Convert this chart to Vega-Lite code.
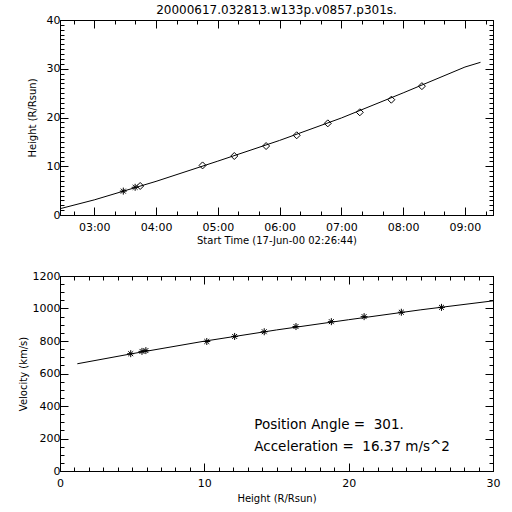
{
  "$schema": "https://vega.github.io/schema/vega-lite/v6.json",
  "background": "white",
  "padding": {"left": 17, "top": 3, "right": 5, "bottom": 5},
  "config": {
    "font": "DejaVu Sans",
    "view": {"stroke": "black", "strokeWidth": 1},
    "axis": {
      "domainColor": "black", "tickColor": "black", "labelColor": "black", "titleColor": "black",
      "labelFont": "DejaVu Sans", "titleFont": "DejaVu Sans", "labelFontSize": 11, "titleFontSize": 10,
      "titleFontWeight": "normal", "grid": false, "labelOverlap": false, "labelFlush": false,
      "domainWidth": 1, "tickWidth": 1, "labelPadding": 8, "titlePadding": 4
    }
  },
  "datasets": {
    "fit": [
      {"time": "2000-06-17T02:26:44", "height": 1.29},
      {"time": "2000-06-17T03:00:00", "height": 3.1},
      {"time": "2000-06-17T04:00:00", "height": 6.9},
      {"time": "2000-06-17T05:00:00", "height": 11.05},
      {"time": "2000-06-17T06:00:00", "height": 15.3},
      {"time": "2000-06-17T07:00:00", "height": 19.9},
      {"time": "2000-06-17T08:00:00", "height": 25.05},
      {"time": "2000-06-17T09:00:00", "height": 30.35},
      {"time": "2000-06-17T09:15:06", "height": 31.32}
    ],
    "obs": [
      {"time": "2000-06-17T03:28:13", "inst": "C2", "height": 4.9, "vel": 722},
      {"time": "2000-06-17T03:39:42", "inst": "C2", "height": 5.68, "vel": 736},
      {"time": "2000-06-17T03:44:36", "inst": "C3", "height": 5.95, "vel": 741},
      {"time": "2000-06-17T04:45:12", "inst": "C3", "height": 10.17, "vel": 797},
      {"time": "2000-06-17T05:16:00", "inst": "C3", "height": 12.1, "vel": 828},
      {"time": "2000-06-17T05:46:54", "inst": "C3", "height": 14.15, "vel": 857},
      {"time": "2000-06-17T06:16:36", "inst": "C3", "height": 16.35, "vel": 889},
      {"time": "2000-06-17T06:46:48", "inst": "C3", "height": 18.8, "vel": 919},
      {"time": "2000-06-17T07:17:54", "inst": "C3", "height": 21.07, "vel": 950},
      {"time": "2000-06-17T07:48:30", "inst": "C3", "height": 23.65, "vel": 977},
      {"time": "2000-06-17T08:18:12", "inst": "C3", "height": 26.43, "vel": 1007}
    ],
    "vfit": [
      {"h": 1.2, "v": 660},
      {"h": 5, "v": 722},
      {"h": 10, "v": 799},
      {"h": 15, "v": 868},
      {"h": 20, "v": 931},
      {"h": 25, "v": 992},
      {"h": 30, "v": 1047}
    ],
    "ann": [
      {"line": "Position Angle =\u00a0 301.", "h": 13.46, "v": 258},
      {"line": "Acceleration =\u00a0 16.37 m/s^2", "h": 13.46, "v": 123}
    ]
  },
  "vconcat": [
    {
      "width": 433,
      "height": 195,
      "title": {"text": "20000617.032813.w133p.v0857.p301s.", "fontSize": 12, "fontWeight": "normal", "frame": "group", "anchor": "middle", "offset": -3, "color": "black"},
      "layer": [
        {
          "data": {"name": "fit"},
          "mark": {"type": "line", "color": "black", "strokeWidth": 1},
          "encoding": {
            "x": {"field": "time", "type": "temporal",
              "scale": {"domain": [{"year": 2000, "month": 6, "date": 17, "hours": 2, "minutes": 26, "seconds": 44}, {"year": 2000, "month": 6, "date": 17, "hours": 9, "minutes": 27, "seconds": 15}], "nice": false},
              "axis": {"orient": "bottom", "title": "Start Time (17-Jun-00 02:26:44)", "labelPadding": 14, "titlePadding": -1,
                "values": [
                  {"year": 2000, "month": 6, "date": 17, "hours": 2, "minutes": 40},
                  {"year": 2000, "month": 6, "date": 17, "hours": 3, "minutes": 0},
                  {"year": 2000, "month": 6, "date": 17, "hours": 3, "minutes": 20},
                  {"year": 2000, "month": 6, "date": 17, "hours": 3, "minutes": 40},
                  {"year": 2000, "month": 6, "date": 17, "hours": 4, "minutes": 0},
                  {"year": 2000, "month": 6, "date": 17, "hours": 4, "minutes": 20},
                  {"year": 2000, "month": 6, "date": 17, "hours": 4, "minutes": 40},
                  {"year": 2000, "month": 6, "date": 17, "hours": 5, "minutes": 0},
                  {"year": 2000, "month": 6, "date": 17, "hours": 5, "minutes": 20},
                  {"year": 2000, "month": 6, "date": 17, "hours": 5, "minutes": 40},
                  {"year": 2000, "month": 6, "date": 17, "hours": 6, "minutes": 0},
                  {"year": 2000, "month": 6, "date": 17, "hours": 6, "minutes": 20},
                  {"year": 2000, "month": 6, "date": 17, "hours": 6, "minutes": 40},
                  {"year": 2000, "month": 6, "date": 17, "hours": 7, "minutes": 0},
                  {"year": 2000, "month": 6, "date": 17, "hours": 7, "minutes": 20},
                  {"year": 2000, "month": 6, "date": 17, "hours": 7, "minutes": 40},
                  {"year": 2000, "month": 6, "date": 17, "hours": 8, "minutes": 0},
                  {"year": 2000, "month": 6, "date": 17, "hours": 8, "minutes": 20},
                  {"year": 2000, "month": 6, "date": 17, "hours": 8, "minutes": 40},
                  {"year": 2000, "month": 6, "date": 17, "hours": 9, "minutes": 0},
                  {"year": 2000, "month": 6, "date": 17, "hours": 9, "minutes": 20}
                ],
                "labelExpr": "minutes(datum.value) === 0 ? timeFormat(datum.value, '%H:%M') : ''",
                "tickSize": {"condition": {"test": "minutes(datum.value) === 0", "value": -8}, "value": -4}}},
            "y": {"field": "height", "type": "quantitative",
              "scale": {"domain": [0, 40], "nice": false},
              "axis": {"orient": "left", "title": "Height (R/Rsun)", "tickCount": 40, "titlePadding": 9,
                "labelExpr": "datum.value % 10 === 0 ? datum.label : ''",
                "tickSize": {"condition": {"test": "datum.value % 10 === 0", "value": -8}, "value": -4}}}
          }
        },
        {
          "data": {"name": "obs"},
          "mark": {"type": "point", "filled": false, "color": "black", "strokeWidth": 1, "opacity": 1, "size": 49},
          "encoding": {
            "x": {"field": "time", "type": "temporal",
              "axis": {"orient": "top", "title": null, "labels": false,
                "values": [
                  {"year": 2000, "month": 6, "date": 17, "hours": 2, "minutes": 40},
                  {"year": 2000, "month": 6, "date": 17, "hours": 3, "minutes": 0},
                  {"year": 2000, "month": 6, "date": 17, "hours": 3, "minutes": 20},
                  {"year": 2000, "month": 6, "date": 17, "hours": 3, "minutes": 40},
                  {"year": 2000, "month": 6, "date": 17, "hours": 4, "minutes": 0},
                  {"year": 2000, "month": 6, "date": 17, "hours": 4, "minutes": 20},
                  {"year": 2000, "month": 6, "date": 17, "hours": 4, "minutes": 40},
                  {"year": 2000, "month": 6, "date": 17, "hours": 5, "minutes": 0},
                  {"year": 2000, "month": 6, "date": 17, "hours": 5, "minutes": 20},
                  {"year": 2000, "month": 6, "date": 17, "hours": 5, "minutes": 40},
                  {"year": 2000, "month": 6, "date": 17, "hours": 6, "minutes": 0},
                  {"year": 2000, "month": 6, "date": 17, "hours": 6, "minutes": 20},
                  {"year": 2000, "month": 6, "date": 17, "hours": 6, "minutes": 40},
                  {"year": 2000, "month": 6, "date": 17, "hours": 7, "minutes": 0},
                  {"year": 2000, "month": 6, "date": 17, "hours": 7, "minutes": 20},
                  {"year": 2000, "month": 6, "date": 17, "hours": 7, "minutes": 40},
                  {"year": 2000, "month": 6, "date": 17, "hours": 8, "minutes": 0},
                  {"year": 2000, "month": 6, "date": 17, "hours": 8, "minutes": 20},
                  {"year": 2000, "month": 6, "date": 17, "hours": 8, "minutes": 40},
                  {"year": 2000, "month": 6, "date": 17, "hours": 9, "minutes": 0},
                  {"year": 2000, "month": 6, "date": 17, "hours": 9, "minutes": 20}
                ],
                "tickSize": {"condition": {"test": "minutes(datum.value) === 0", "value": -8}, "value": -4}}},
            "y": {"field": "height", "type": "quantitative",
              "axis": {"orient": "right", "title": null, "labels": false, "tickCount": 40,
                "tickSize": {"condition": {"test": "datum.value % 10 === 0", "value": -8}, "value": -4}}},
            "shape": {"field": "inst", "type": "nominal",
              "scale": {"domain": ["C2", "C3"], "range": ["M-1,0L1,0M0,-1L0,1M-0.7,-0.7L0.7,0.7M-0.7,0.7L0.7,-0.7", "diamond"]},
              "legend": null}
          }
        }
      ],
      "resolve": {"axis": {"x": "independent", "y": "independent"}}
    },
    {
      "width": 433,
      "height": 195,
      "layer": [
        {
          "data": {"name": "vfit"},
          "mark": {"type": "line", "color": "black", "strokeWidth": 1},
          "encoding": {
            "x": {"field": "h", "type": "quantitative",
              "scale": {"domain": [0, 30], "nice": false},
              "axis": {"orient": "bottom", "title": "Height (R/Rsun)", "tickCount": 30, "labelPadding": 14, "titlePadding": 1,
                "labelExpr": "datum.value % 10 === 0 ? datum.label : ''",
                "tickSize": {"condition": {"test": "datum.value % 10 === 0", "value": -8}, "value": -4}}},
            "y": {"field": "v", "type": "quantitative",
              "scale": {"domain": [0, 1200], "nice": false},
              "axis": {"orient": "left", "title": "Velocity (km/s)", "tickCount": 24, "format": "d", "titlePadding": 4,
                "labelExpr": "datum.value % 200 === 0 ? datum.label : ''",
                "tickSize": {"condition": {"test": "datum.value % 200 === 0", "value": -8}, "value": -4}}}
          }
        },
        {
          "data": {"name": "obs"},
          "mark": {"type": "point", "filled": false, "color": "black", "strokeWidth": 1, "opacity": 1, "size": 49,
            "shape": "M-1,0L1,0M0,-1L0,1M-0.7,-0.7L0.7,0.7M-0.7,0.7L0.7,-0.7"},
          "encoding": {
            "x": {"field": "height", "type": "quantitative",
              "axis": {"orient": "top", "title": null, "labels": false, "tickCount": 30,
                "tickSize": {"condition": {"test": "datum.value % 10 === 0", "value": -8}, "value": -4}}},
            "y": {"field": "vel", "type": "quantitative",
              "axis": {"orient": "right", "title": null, "labels": false, "tickCount": 24,
                "tickSize": {"condition": {"test": "datum.value % 200 === 0", "value": -8}, "value": -4}}}
          }
        },
        {
          "data": {"name": "ann"},
          "mark": {"type": "text", "align": "left", "baseline": "alphabetic", "fontSize": 13.5, "color": "black"},
          "encoding": {
            "x": {"field": "h", "type": "quantitative", "axis": null},
            "y": {"field": "v", "type": "quantitative", "axis": null},
            "text": {"field": "line"}
          }
        }
      ],
      "resolve": {"axis": {"x": "independent", "y": "independent"}}
    }
  ],
  "spacing": 61,
  "bounds": "flush"
}
